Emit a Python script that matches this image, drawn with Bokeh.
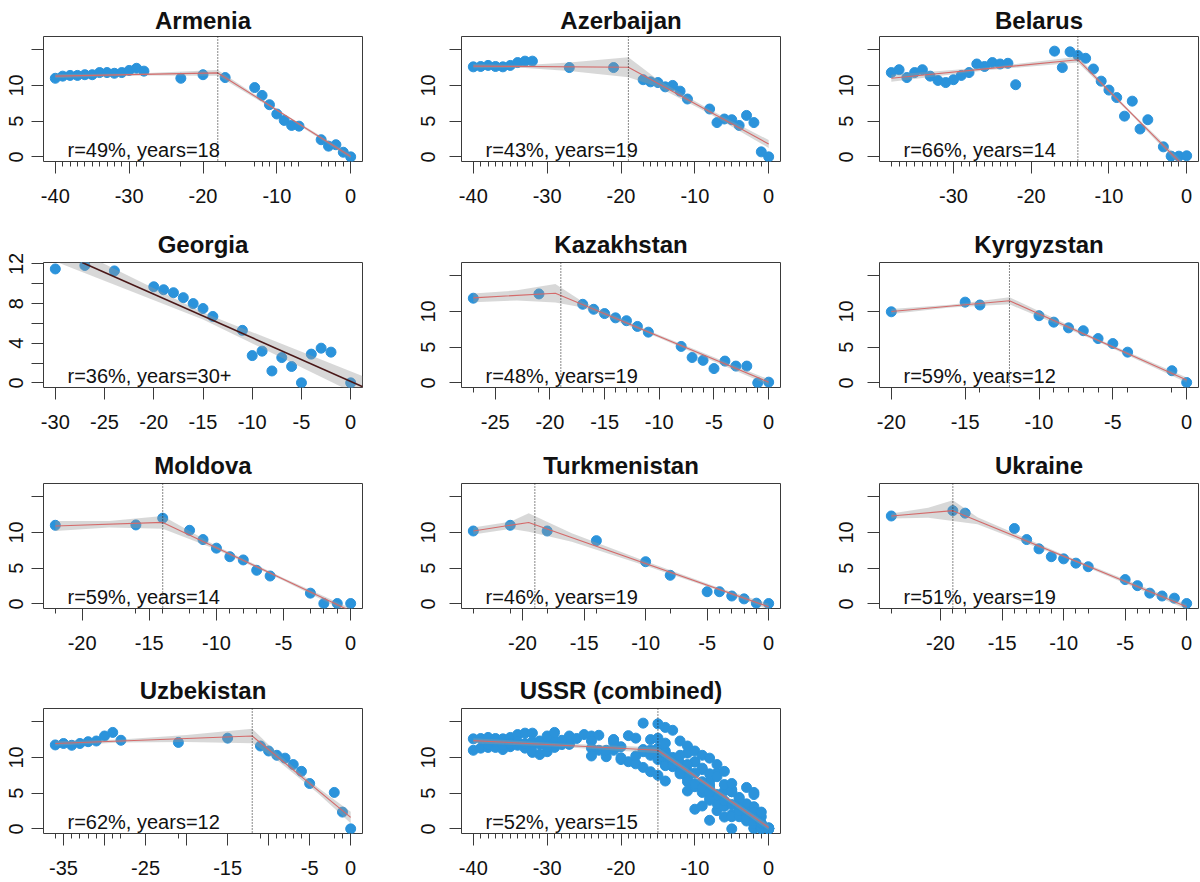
import numpy as np
from bokeh.plotting import figure
from bokeh.models import FixedTicker, Label, Span, Slope
from bokeh.layouts import column, row
from bokeh.embed import file_html
from bokeh.resources import INLINE

# ---------------- data ----------------
countries = ["Armenia", "Azerbaijan", "Belarus", "Georgia", "Kazakhstan", "Kyrgyzstan",
             "Moldova", "Turkmenistan", "Ukraine", "Uzbekistan", "USSR (combined)"]
r_pct = [49, 43, 66, 36, 48, 59, 59, 46, 51, 62, 52]
years_lbl = ["18", "19", "14", "30+", "19", "12", "14", "19", "19", "12", "15"]
break_years = [18, 19, 14, None, 19, 12, 14, 19, 19, 12, 15]

arm_x = [-40, -39, -38, -37, -36, -35, -34, -33, -32, -31, -30, -29, -28, -23, -20, -17, -13, -12, -11, -10, -9, -8, -7, -4, -3, -2, -1, 0]
arm_y = [11.0, 11.3, 11.4, 11.4, 11.5, 11.5, 11.8, 11.8, 11.7, 11.8, 12.1, 12.4, 12.0, 11.0, 11.5, 11.1, 9.7, 8.6, 7.3, 6.0, 5.1, 4.4, 4.3, 2.4, 1.5, 1.7, 0.65, 0.0]
arm_fit_x = [-40, -18, 0]
arm_fit_y = [11.3, 11.75, 0.05]
arm_band_x = [-40, -29, -18, -9, 0]
arm_band_hw = [0.3, 0.15, 0.4, 0.15, 0.3]

aze_x = [-40, -39, -38, -37, -36, -35, -34, -33, -32, -27, -21, -17, -16, -15, -14, -13, -12, -11, -8, -7, -6, -5, -4, -3, -2, -1, 0]
aze_y = [12.6, 12.65, 12.8, 12.65, 12.6, 12.8, 13.2, 13.4, 13.4, 12.5, 12.5, 10.8, 10.5, 10.4, 9.8, 10.0, 9.2, 8.1, 6.7, 4.8, 5.3, 5.2, 4.4, 5.8, 4.8, 0.7, 0.0]
aze_fit_x = [-40, -19, 0]
aze_fit_y = [12.7, 12.55, 1.8]
aze_band_x = [-40, -33, -27, -19, -15, -8, 0]
aze_band_hw = [0.3, 0.2, 0.6, 1.4, 0.5, 0.3, 0.55]

bel_x = [-38, -37, -36, -35, -34, -33, -32, -31, -30, -29, -28, -27, -26, -25, -24, -23, -22, -17, -16, -15, -14, -13, -12, -11, -10, -9, -8, -7, -6, -5, -3, -2, -1, 0]
bel_y = [11.8, 12.2, 11.1, 11.8, 12.2, 11.3, 10.7, 10.4, 10.8, 11.4, 11.8, 13.0, 12.65, 13.2, 13.0, 13.1, 10.1, 14.8, 12.5, 14.7, 14.2, 13.8, 12.3, 10.6, 9.35, 8.3, 5.7, 7.8, 3.9, 5.2, 1.4, 0.1, 0.1, 0.15]
bel_fit_x = [-38, -14, 0]
bel_fit_y = [11.0, 13.6, -1.7]
bel_band_x = [-38, -26, -14, -7, 0]
bel_band_hw = [0.5, 0.2, 0.4, 0.2, 0.5]

geo_x = [-30, -27, -24, -20, -19, -18, -17, -16, -15, -14, -11, -10, -9, -8, -7, -6, -5, -4, -3, -2, 0]
geo_y = [11.5, 11.85, 11.3, 9.7, 9.4, 9.1, 8.6, 8.0, 7.5, 6.7, 5.3, 2.75, 3.2, 1.2, 2.55, 1.65, 0.0, 2.9, 3.5, 3.1, 0.0]
geo_slope = -0.44
geo_intercept = 0.15
geo_band_x = [-32, -15, 2]
geo_band_hw = [1.2, 0.35, 1.1]

kaz_x = [-27, -21, -17, -16, -15, -14, -13, -12, -11, -8, -7, -6, -5, -4, -3, -2, -1, 0]
kaz_y = [11.85, 12.45, 11.0, 10.3, 9.7, 9.1, 8.7, 7.9, 7.1, 5.1, 3.55, 3.15, 2.0, 3.05, 2.35, 2.35, 0.0, 0.1]
kaz_fit_x = [-27, -19.5, 0]
kaz_fit_y = [11.9, 12.55, 0.1]
kaz_band_x = [-27, -23, -19.5, -17, -10, 0]
kaz_band_hw = [0.6, 0.7, 1.3, 0.4, 0.2, 0.4]

kgz_x = [-20, -15, -14, -10, -9, -8, -7, -6, -5, -4, -1, 0]
kgz_y = [9.95, 11.3, 10.9, 9.4, 8.5, 7.7, 7.3, 6.2, 5.5, 4.3, 1.7, 0.05]
kgz_fit_x = [-20, -12, 0]
kgz_fit_y = [10.0, 11.5, 0.4]
kgz_band_x = [-20, -16, -12, -6, 0]
kgz_band_hw = [0.35, 0.2, 0.5, 0.2, 0.35]

mda_x = [-22, -16, -14, -12, -11, -10, -9, -8, -7, -6, -3, -2, -1, 0]
mda_y = [11.0, 11.05, 12.0, 10.3, 9.0, 7.8, 6.6, 6.15, 4.7, 3.9, 1.5, 0.05, 0.05, 0.05]
mda_fit_x = [-22, -14, 0]
mda_fit_y = [10.9, 11.4, -1.0]
mda_band_x = [-22, -18, -14, -10, -5, 0]
mda_band_hw = [0.7, 0.45, 0.9, 0.25, 0.2, 0.4]

tkm_x = [-24, -21, -18, -14, -10, -8, -5, -4, -3, -2, -1, 0]
tkm_y = [10.2, 11.0, 10.2, 8.85, 5.9, 4.0, 1.7, 1.7, 1.1, 0.7, 0.1, 0.05]
tkm_fit_x = [-24, -19.5, 0]
tkm_fit_y = [10.2, 11.4, -0.4]
tkm_band_x = [-24, -21, -19.5, -16, -10, -4, 0]
tkm_band_hw = [0.5, 0.5, 1.3, 0.6, 0.3, 0.2, 0.4]

ukr_x = [-24, -19, -18, -14, -13, -12, -11, -10, -9, -8, -5, -4, -3, -2, -1, 0]
ukr_y = [12.3, 13.05, 12.7, 10.55, 9.0, 7.7, 6.6, 6.3, 5.7, 5.2, 3.4, 2.55, 1.5, 1.1, 0.8, 0.05]
ukr_fit_x = [-24, -19, 0]
ukr_fit_y = [12.3, 13.05, -0.4]
ukr_band_x = [-24, -21, -19, -17, -10, 0]
ukr_band_hw = [0.35, 0.7, 1.45, 0.5, 0.2, 0.35]

uzb_x = [-36, -35, -34, -33, -32, -31, -30, -29, -28, -21, -15, -11, -10, -9, -8, -7, -6, -5, -2, -1, 0]
uzb_y = [11.75, 11.95, 11.7, 11.95, 12.2, 12.3, 13.0, 13.5, 12.4, 12.1, 12.7, 11.6, 10.9, 10.3, 9.9, 9.0, 8.05, 6.35, 5.1, 2.35, 0.0]
uzb_fit_x = [-36, -12, 0]
uzb_fit_y = [11.95, 13.0, 1.6]
uzb_band_x = [-36, -28, -20, -12, -9, -4, 0]
uzb_band_hw = [0.3, 0.2, 0.5, 1.0, 0.5, 0.4, 0.8]

ussr_fit_x = [-40, -15, 0]
ussr_fit_y = [12.35, 11.0, 0.2]
ussr_band_x = [-40, -28, -15, -8, 0]
ussr_band_hw = [0.35, 0.25, 0.4, 0.3, 0.4]

x_ticks_10 = [-40, -30, -20, -10, 0]
x_ticks_bel = [-30, -20, -10, 0]
x_ticks_geo = [-30, -25, -20, -15, -10, -5, 0]
x_ticks_kaz = [-25, -20, -15, -10, -5, 0]
x_ticks_20 = [-20, -15, -10, -5, 0]
x_ticks_uzb = [-35, -30, -25, -20, -15, -10, -5, 0]
uzb_hidden = [-30, -20, -10]
y_ticks = [0, 5, 10, 15]
y_hidden = [15]
geo_y_ticks = [0, 2, 4, 6, 8, 10, 12]
geo_y_hidden = [2, 6, 10]

# combined panel = union of all country series
all_x = [arm_x, aze_x, bel_x, geo_x, kaz_x, kgz_x, mda_x, tkm_x, ukr_x, uzb_x]
all_y = [arm_y, aze_y, bel_y, geo_y, kaz_y, kgz_y, mda_y, tkm_y, ukr_y, uzb_y]
ussr_x = [v for lst in all_x for v in lst]
ussr_y = [v for lst in all_y for v in lst]

fits_x = [arm_fit_x, aze_fit_x, bel_fit_x, None, kaz_fit_x, kgz_fit_x, mda_fit_x, tkm_fit_x, ukr_fit_x, uzb_fit_x, ussr_fit_x]
fits_y = [arm_fit_y, aze_fit_y, bel_fit_y, None, kaz_fit_y, kgz_fit_y, mda_fit_y, tkm_fit_y, ukr_fit_y, uzb_fit_y, ussr_fit_y]
bands_x = [arm_band_x, aze_band_x, bel_band_x, geo_band_x, kaz_band_x, kgz_band_x, mda_band_x, tkm_band_x, ukr_band_x, uzb_band_x, ussr_band_x]
bands_hw = [arm_band_hw, aze_band_hw, bel_band_hw, geo_band_hw, kaz_band_hw, kgz_band_hw, mda_band_hw, tkm_band_hw, ukr_band_hw, uzb_band_hw, ussr_band_hw]
xticks_all = [x_ticks_10, x_ticks_10, x_ticks_bel, x_ticks_geo, x_ticks_kaz, x_ticks_20,
              x_ticks_20, x_ticks_20, x_ticks_20, x_ticks_uzb, x_ticks_10]
xs_all = all_x + [ussr_x]
ys_all = all_y + [ussr_y]

# ---------------- styling / layout ----------------
FONT = "Liberation Sans"
PT_COLOR = "#2b93db"
FIT_COLOR = "#d46a6a"
BOX_COLOR = "#3a3a3a"
FW, FH = 319, 125
ML = [43, 61, 79]
MR = [400 - FW - m for m in ML]
MT = [36, 40, 40, 43]
MB = [61, 56, 57, 49]
TITLE_STANDOFF = [5, 9, 9, 10]


def make_panel(i):
    r, c = divmod(i, 3)
    xs, ys = xs_all[i], ys_all[i]
    span = 0 - min(xs)
    xr = (min(xs) - 0.04 * span, 0.04 * span)
    if countries[i] == "Georgia":
        yr = (-0.47, 12.15)
    else:
        yr = (-0.648, 16.848)
    p = figure(frame_width=FW, frame_height=FH, x_range=xr, y_range=yr,
               min_border_left=ML[c], min_border_right=MR[c],
               min_border_top=MT[r], min_border_bottom=MB[r],
               output_backend="svg", toolbar_location=None, title=countries[i])
    p.xgrid.visible = False
    p.ygrid.visible = False
    p.outline_line_color = BOX_COLOR
    p.outline_line_width = 1
    p.background_fill_color = "white"
    p.border_fill_color = "white"
    p.title.align = "center"
    p.title.text_font = FONT
    p.title.text_font_size = "24px"
    p.title.text_font_style = "bold"
    p.title.text_color = "#111111"
    p.title.standoff = TITLE_STANDOFF[r]

    # points
    p.scatter(xs, ys, size=10, fill_color=PT_COLOR, line_color=PT_COLOR)

    # confidence band
    bx = np.array(bands_x[i], dtype=float)
    hw = np.array(bands_hw[i], dtype=float)
    if countries[i] == "Georgia":
        center = geo_intercept + geo_slope * bx
    else:
        center = np.interp(bx, fits_x[i], fits_y[i])
    p.varea(x=bx, y1=center - hw, y2=center + hw, fill_color="#999999", fill_alpha=0.38)

    # fitted line
    if countries[i] == "Georgia":
        p.add_layout(Slope(gradient=geo_slope, y_intercept=geo_intercept,
                           line_color="#4a1818", line_width=1.6))
    else:
        p.line(fits_x[i], fits_y[i], line_color=FIT_COLOR, line_width=1.1)

    # breakpoint
    if break_years[i] is not None:
        p.add_layout(Span(location=-break_years[i], dimension="height",
                          line_color="#111111", line_width=1, line_dash="1 2"))

    # annotation (inside the frame, bottom-left)
    lx = xr[0] + 24 * (xr[1] - xr[0]) / FW
    ly = yr[0] + 0.5 * (yr[1] - yr[0]) / FH
    p.add_layout(Label(x=lx, y=ly, text=f"r={r_pct[i]}%, years={years_lbl[i]}",
                       text_font=FONT, text_font_size="20px", text_color="#111111",
                       text_baseline="bottom"))

    # x axis
    xa = p.xaxis[0]
    xt = xticks_all[i]
    minor = [] if countries[i] == "Georgia" else sorted(set(xs))
    xa.ticker = FixedTicker(ticks=xt, minor_ticks=minor)
    hidden = uzb_hidden if countries[i] == "Uzbekistan" else []
    xa.major_label_overrides = {t: ("" if t in hidden else str(t)) for t in xt}
    xa.axis_line_color = None
    xa.major_tick_out = 12
    xa.major_tick_in = 0
    xa.minor_tick_out = 5
    xa.minor_tick_in = 0
    xa.major_tick_line_color = BOX_COLOR
    xa.minor_tick_line_color = BOX_COLOR
    xa.major_label_text_font = FONT
    xa.major_label_text_font_size = "20px"
    xa.major_label_text_color = "#111111"
    xa.major_label_standoff = 15

    # y axis
    ya = p.yaxis[0]
    if countries[i] == "Georgia":
        yt, yh = geo_y_ticks, geo_y_hidden
    else:
        yt, yh = y_ticks, y_hidden
    ya.ticker = FixedTicker(ticks=yt, minor_ticks=[])
    ya.major_label_overrides = {t: ("" if t in yh else str(t)) for t in yt}
    ya.axis_line_color = None
    ya.major_tick_out = 12
    ya.major_tick_in = 0
    ya.minor_tick_out = 0
    ya.minor_tick_in = 0
    ya.major_tick_line_color = BOX_COLOR
    ya.major_label_text_font = FONT
    ya.major_label_text_font_size = "20px"
    ya.major_label_text_color = "#111111"
    ya.major_label_orientation = "vertical"
    ya.major_label_standoff = 8 if c == 0 else 14
    return p


figs = [make_panel(i) for i in range(len(countries))]
layout = column(
    row(*figs[0:3], spacing=0),
    row(*figs[3:6], spacing=0),
    row(*figs[6:9], spacing=0),
    row(*figs[9:11], spacing=0),
    spacing=0,
)

with open("out.html", "w") as f:
    f.write(file_html(layout, INLINE, title="Piecewise fits"))
